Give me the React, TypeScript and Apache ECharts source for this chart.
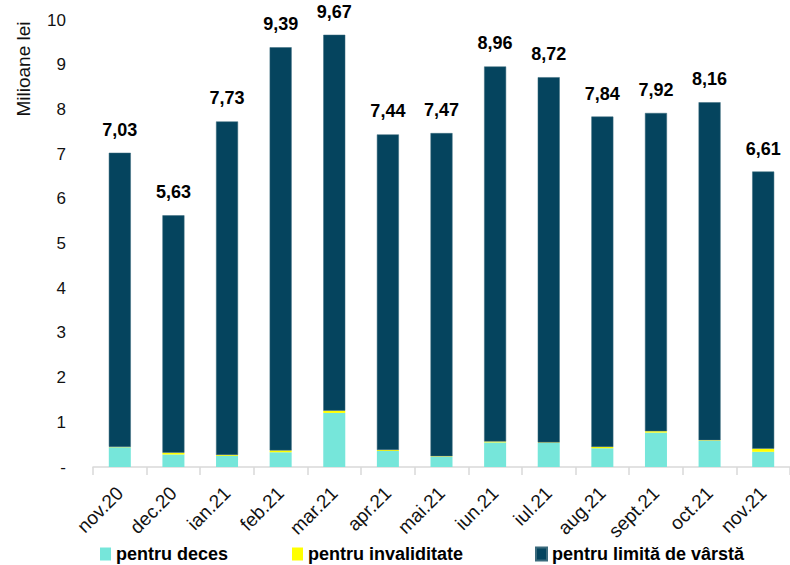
import React, { useEffect, useRef } from "react";
import * as echarts from "echarts";

const categories = ["nov.20", "dec.20", "ian.21", "feb.21", "mar.21", "apr.21", "mai.21", "iun.21", "iul.21", "aug.21", "sept.21", "oct.21", "nov.21"];
const totals = [7.03, 5.63, 7.73, 9.39, 9.67, 7.44, 7.47, 8.96, 8.72, 7.84, 7.92, 8.16, 6.61];
const deces = [0.44, 0.28, 0.25, 0.33, 1.21, 0.36, 0.23, 0.55, 0.54, 0.42, 0.77, 0.59, 0.34];
const invaliditate = [0.01, 0.04, 0.02, 0.04, 0.05, 0.02, 0.01, 0.02, 0.01, 0.03, 0.03, 0.01, 0.07];
const varsta = [6.58, 5.31, 7.46, 9.02, 8.41, 7.06, 7.23, 8.39, 8.17, 7.39, 7.12, 7.56, 6.2];
const yTicks = [0, 1, 2, 3, 4, 5, 6, 7, 8, 9, 10];
const seriesNames = ["pentru deces", "pentru invaliditate", "pentru limită de vârstă"];

const FONT = "'Liberation Sans', Arial, sans-serif";
const legendLefts = [100, 292, 535];

export default function App() {
  const ref = useRef<HTMLDivElement>(null);
  useEffect(() => {
    const chart = echarts.init(ref.current!, null, { renderer: "svg" });
    chart.setOption({
      animation: false,
      textStyle: { fontFamily: FONT },
      grid: { left: 93, width: 703, top: 20, bottom: 98 },
      xAxis: {
        type: "category",
        data: categories,
        axisLine: { lineStyle: { color: "#d9d9d9", width: 1.5 } },
        axisTick: { show: true, length: 8, lineStyle: { color: "#d9d9d9", width: 1.5 } },
        axisLabel: { rotate: 45, fontSize: 19, color: "#111", margin: 23, fontFamily: FONT },
      },
      yAxis: {
        type: "value",
        min: yTicks[0],
        max: yTicks[yTicks.length - 1],
        interval: 1,
        splitLine: { show: false },
        axisLine: { show: false },
        axisTick: { show: false },
        axisLabel: {
          fontSize: 17,
          color: "#111",
          margin: 27,
          fontFamily: FONT,
          formatter: (v: number) => (v === 0 ? "-" : String(v)),
        },
      },
      legend: seriesNames.map((n, i) => ({
        top: 545,
        left: legendLefts[i],
        itemWidth: 11,
        itemHeight: 13,
        icon: "rect",
        padding: 0,
        textStyle: { fontSize: 18, fontWeight: "bold", color: "#000", fontFamily: FONT },
        data: [n],
      })),
      graphic: [
        {
          type: "text",
          x: 14,
          y: 69,
          rotation: Math.PI / 2,
          style: {
            text: "Milioane lei",
            fontSize: 19,
            fill: "#111",
            fontFamily: FONT,
            align: "center",
            verticalAlign: "top",
          },
        },
      ],
      series: [
        {
          name: seriesNames[0],
          type: "bar",
          stack: "t",
          barWidth: 22,
          data: deces,
          itemStyle: { color: "#76E6DA" },
        },
        {
          name: seriesNames[1],
          type: "bar",
          stack: "t",
          barWidth: 22,
          data: invaliditate,
          itemStyle: { color: "#FFFF00" },
        },
        {
          name: seriesNames[2],
          type: "bar",
          stack: "t",
          barWidth: 22,
          data: varsta,
          itemStyle: { color: "#05445E", borderColor: "#3b6a7c", borderWidth: 0.5 },
          label: {
            show: true,
            position: "top",
            distance: 14,
            fontSize: 18,
            fontWeight: "bold",
            color: "#000",
            fontFamily: FONT,
            formatter: (p: any) => totals[p.dataIndex].toFixed(2).replace(".", ","),
          },
        },
      ],
    });
    return () => chart.dispose();
  }, []);
  return <div ref={ref} style={{ width: 790, height: 565, position: "absolute", left: 0, top: 0 }} />;
}
